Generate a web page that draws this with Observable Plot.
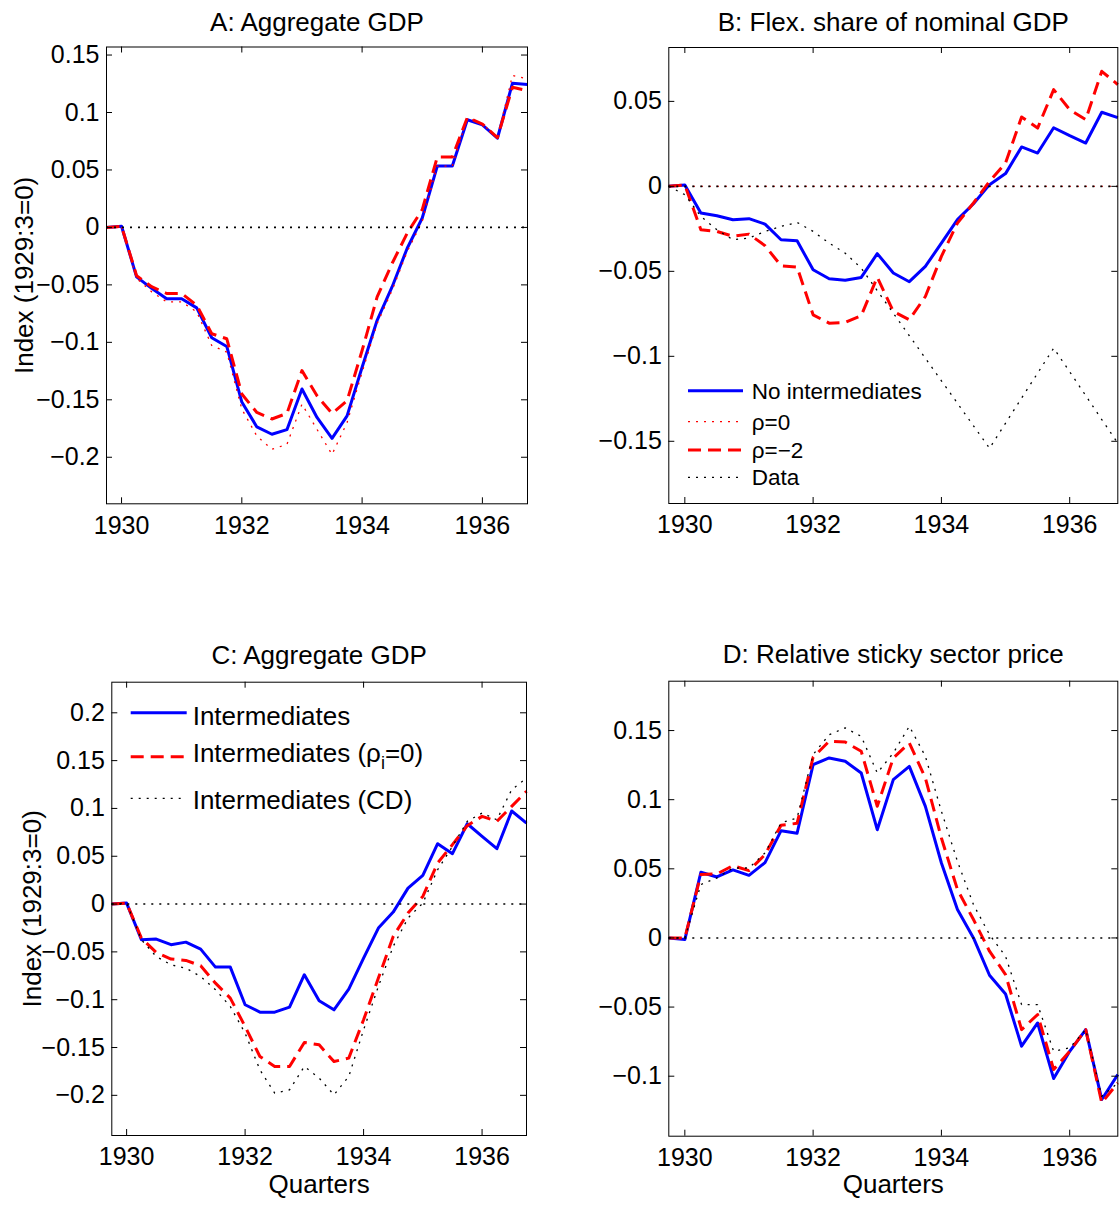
<!DOCTYPE html>
<html>
<head>
<meta charset="utf-8">
<script src="https://cdn.jsdelivr.net/npm/d3@7"></script>
<script src="https://cdn.jsdelivr.net/npm/@observablehq/plot@0.6"></script>
<style>
  html, body { margin: 0; padding: 0; background: #fff; }
  #chart { position: relative; width: 1119px; height: 1207px; background: #fff; overflow: hidden; }
</style>
</head>
<body>
<div id="chart"></div>
<script>
// ---------------- DATA ----------------
const quarters = [1929.75, 1930, 1930.25, 1930.5, 1930.75, 1931, 1931.25, 1931.5, 1931.75,
  1932, 1932.25, 1932.5, 1932.75, 1933, 1933.25, 1933.5, 1933.75, 1934, 1934.25, 1934.5, 1934.75,
  1935, 1935.25, 1935.5, 1935.75, 1936, 1936.25, 1936.5, 1936.75];

const xTicks = [1930, 1932, 1934, 1936];
const yTicksA = [-0.2, -0.15, -0.1, -0.05, 0, 0.05, 0.1, 0.15];
const yTicksB = [-0.15, -0.1, -0.05, 0, 0.05];
const yTicksC = [-0.2, -0.15, -0.1, -0.05, 0, 0.05, 0.1, 0.15, 0.2];
const yTicksD = [-0.1, -0.05, 0, 0.05, 0.1, 0.15];

const titles = ["A: Aggregate GDP", "B: Flex. share of nominal GDP", "C: Aggregate GDP", "D: Relative sticky sector price"];
const yLabel = "Index (1929:3=0)";
const xLabel = "Quarters";

const legendB = ["No intermediates", "ρ=0", "ρ=\u22122", "Data"];
const legendC = ["Intermediates", "Intermediates (ρ", "Intermediates (CD)"];

// Panel A: Aggregate GDP, no intermediates
const aNoInt = [0, 0.001, -0.043, -0.053, -0.062, -0.062, -0.070, -0.096, -0.1036, -0.152, -0.1736, -0.180, -0.176, -0.1406, -0.1654, -0.1835, -0.164, -0.1217, -0.0808, -0.0516, -0.0181, 0.0082, 0.0534, 0.0534, 0.0937, 0.0893, 0.0776, 0.1255, 0.1243];
const aRho0 = [0, 0.001, -0.0443, -0.056, -0.0648, -0.0648, -0.0735, -0.1027, -0.1085, -0.1581, -0.1815, -0.1931, -0.1888, -0.1538, -0.1757, -0.1975, -0.1698, -0.126, -0.0837, -0.0546, -0.021, 0.0053, 0.0534, 0.0534, 0.0957, 0.0899, 0.0782, 0.1322, 0.1292];
const aRhoM2 = [0, 0.001, -0.042, -0.0516, -0.0575, -0.0575, -0.0677, -0.0925, -0.0969, -0.145, -0.161, -0.1667, -0.1619, -0.1246, -0.1465, -0.1619, -0.1508, -0.1071, -0.0604, -0.0312, -0.005, 0.0155, 0.0613, 0.0613, 0.0957, 0.0899, 0.0782, 0.122, 0.119];

// Panel B: Flex share of nominal GDP
const bNoInt = [0, 0.0008, -0.0157, -0.0173, -0.0196, -0.019, -0.0222, -0.0314, -0.032, -0.0491, -0.0544, -0.0552, -0.0536, -0.0396, -0.051, -0.0561, -0.0471, -0.0334, -0.0196, -0.0102, 0.001, 0.0075, 0.0232, 0.0196, 0.0345, 0.0298, 0.0255, 0.0436, 0.0404];
const bRho0 = [0, 0, 0, 0, 0, 0, 0, 0, 0, 0, 0, 0, 0, 0, 0, 0, 0, 0, 0, 0, 0, 0, 0, 0, 0, 0, 0, 0, 0];
const bRhoM2 = [0, 0.0008, -0.0255, -0.0265, -0.0294, -0.0281, -0.0349, -0.0467, -0.0475, -0.0756, -0.0805, -0.0801, -0.0761, -0.0534, -0.0736, -0.0785, -0.0648, -0.0412, -0.0216, -0.0098, 0.0029, 0.0137, 0.0408, 0.0343, 0.0569, 0.0451, 0.0393, 0.0677, 0.0599];
const bData = [0, -0.0049, -0.0177, -0.0255, -0.0314, -0.0304, -0.0265, -0.0236, -0.0212, -0.0265, -0.0334, -0.0393, -0.0481, -0.0614, -0.0746, -0.0879, -0.1011, -0.1144, -0.1276, -0.1409, -0.1541, -0.1393, -0.1246, -0.1099, -0.0952, -0.1091, -0.1231, -0.1372, -0.1511];

// Panel C: Aggregate GDP with intermediates
const cInt = [0, 0.001, -0.0373, -0.0366, -0.0425, -0.0398, -0.0471, -0.0659, -0.0659, -0.1053, -0.113, -0.113, -0.1078, -0.0739, -0.1011, -0.1106, -0.0889, -0.0565, -0.0251, -0.0084, 0.0167, 0.03, 0.0631, 0.0527, 0.084, 0.0708, 0.0579, 0.0973, 0.0847];
const cIntRho0 = [0, 0.001, -0.0356, -0.0506, -0.0575, -0.0589, -0.0645, -0.0827, -0.0983, -0.128, -0.1594, -0.1698, -0.1698, -0.1447, -0.1472, -0.1646, -0.1611, -0.121, -0.0774, -0.0338, -0.0094, 0.008, 0.0429, 0.0621, 0.082, 0.0917, 0.0865, 0.1022, 0.1179];
const cIntCD = [0, 0.001, -0.0373, -0.0548, -0.0635, -0.067, -0.0757, -0.0896, -0.1071, -0.135, -0.1733, -0.1977, -0.1942, -0.1698, -0.182, -0.1995, -0.1803, -0.1315, -0.0861, -0.0443, -0.0146, 0.001, 0.0359, 0.0603, 0.0865, 0.0952, 0.0882, 0.1196, 0.1318];

// Panel D: Relative sticky sector price
const dInt = [0, -0.0012, 0.0475, 0.0441, 0.0492, 0.0453, 0.0545, 0.0776, 0.0757, 0.1253, 0.1302, 0.1278, 0.1193, 0.0783, 0.1145, 0.1241, 0.0952, 0.0542, 0.0205, 0, -0.027, -0.0405, -0.0783, -0.0615, -0.1017, -0.082, -0.0663, -0.1169, -0.0988];
const dIntRho0 = [0, 0, 0.0458, 0.0463, 0.0523, 0.0487, 0.0603, 0.0815, 0.0829, 0.1307, 0.1422, 0.1417, 0.135, 0.0952, 0.1302, 0.141, 0.1157, 0.0723, 0.035, 0.0133, -0.0096, -0.0265, -0.0663, -0.0554, -0.0952, -0.082, -0.0663, -0.1193, -0.1049];
const dIntCD = [0, 0, 0.0386, 0.0434, 0.0506, 0.0506, 0.0615, 0.0832, 0.0868, 0.1326, 0.147, 0.1519, 0.1458, 0.1193, 0.1338, 0.1531, 0.1314, 0.0916, 0.0554, 0.0241, 0.0024, -0.0133, -0.0482, -0.0482, -0.082, -0.0795, -0.0663, -0.1145, -0.1049];

// ---------------- STYLES ----------------
const FONT = '"Liberation Sans", Arial, Helvetica, sans-serif';
const BLUE = "#0000ff", RED = "#ff0000", BLACK = "#000000";
const STYLE = {
  solid:    {stroke: BLUE, strokeWidth: 3, strokeLinejoin: "round", strokeLinecap: "butt"},
  dotRed:   {stroke: RED, strokeWidth: 1.3, strokeDasharray: "2,6", strokeLinecap: "butt"},
  dash:     {stroke: RED, strokeWidth: 3, strokeDasharray: "13,7", strokeLinejoin: "round", strokeLinecap: "butt"},
  dotBlack: {stroke: BLACK, strokeWidth: 1.3, strokeDasharray: "2,6", strokeLinecap: "butt"}
};
const fmtY = d => (d < 0 ? "\u2212" : "") + String(Math.abs(d));
const xDomain = [1929.75, 1936.75];

function makePanel(cfg) {
  const {left, top, w, h, ml, mr, mt, mb, yDomain, yTicks, title, titleDy, series, ylab, ylabDx, xlab} = cfg;
  const iw = w - ml - mr, ih = h - mt - mb, tk = 6;
  const marks = [];
  for (const s of series) {
    const rows = quarters.map((q, i) => ({q, v: s.values[i]}));
    marks.push(Plot.line(rows, {x: "q", y: "v", ...STYLE[s.style]}));
  }
  marks.push(Plot.ruleY([0], {stroke: BLACK, strokeWidth: 1.6, strokeDasharray: "2,6", strokeLinecap: "butt"}));
  marks.push(Plot.frame({stroke: BLACK, strokeWidth: 1}));
  marks.push(Plot.tickY(yTicks, {y: d => d, insetRight: iw - tk, stroke: BLACK}));
  marks.push(Plot.tickY(yTicks, {y: d => d, insetLeft: iw - tk, stroke: BLACK}));
  marks.push(Plot.tickX(xTicks, {x: d => d, insetTop: ih - tk, stroke: BLACK}));
  marks.push(Plot.tickX(xTicks, {x: d => d, insetBottom: ih - tk, stroke: BLACK}));
  marks.push(Plot.axisY(yTicks, {tickSize: 0, tickPadding: 7, tickFormat: fmtY, fontSize: 25, label: null}));
  marks.push(Plot.axisX(xTicks, {tickSize: 0, tickPadding: 12, tickFormat: d => String(d), fontSize: 25, label: null}));
  marks.push(Plot.text([title], {frameAnchor: "top", dy: titleDy, lineAnchor: "bottom", textAnchor: "middle", fontSize: 26}));
  if (ylab) marks.push(Plot.text([ylab], {frameAnchor: "left", dx: ylabDx, rotate: -90, lineAnchor: "bottom", textAnchor: "middle", fontSize: 26}));
  if (xlab) marks.push(Plot.text([xlab], {frameAnchor: "bottom", dy: 57, lineAnchor: "bottom", textAnchor: "middle", fontSize: 26}));
  const svg = Plot.plot({
    width: w, height: h,
    marginLeft: ml, marginRight: mr, marginTop: mt, marginBottom: mb,
    x: {domain: xDomain, label: null},
    y: {domain: yDomain, label: null},
    style: {fontFamily: FONT, fontSize: "25px", color: BLACK, background: "transparent", overflow: "visible"},
    marks
  });
  svg.style.position = "absolute";
  svg.style.left = left + "px";
  svg.style.top = top + "px";
  return svg;
}

const chart = document.getElementById("chart");

chart.appendChild(makePanel({
  left: 0, top: 0, w: 560, h: 560, ml: 106, mr: 33, mt: 46.5, mb: 56.7,
  yDomain: [-0.2405, 0.157], yTicks: yTicksA, title: titles[0], titleDy: -16.5,
  ylab: yLabel, ylabDx: -73.5,
  series: [{values: aNoInt, style: "solid"}, {values: aRho0, style: "dotRed"}, {values: aRhoM2, style: "dash"}]
}));

chart.appendChild(makePanel({
  left: 560, top: 0, w: 559, h: 560, ml: 108.3, mr: 1.7, mt: 47, mb: 57,
  yDomain: [-0.1866, 0.0817], yTicks: yTicksB, title: titles[1], titleDy: -16.5,
  series: [{values: bRho0, style: "dotRed"}, {values: bNoInt, style: "solid"}, {values: bRhoM2, style: "dash"}, {values: bData, style: "dotBlack"}]
}));

chart.appendChild(makePanel({
  left: 0, top: 600, w: 560, h: 607, ml: 111.3, mr: 34, mt: 81.7, mb: 72,
  yDomain: [-0.242, 0.232], yTicks: yTicksC, title: titles[2], titleDy: -18,
  ylab: yLabel, ylabDx: -71.3, xlab: xLabel,
  series: [{values: cInt, style: "solid"}, {values: cIntRho0, style: "dash"}, {values: cIntCD, style: "dotBlack"}]
}));

chart.appendChild(makePanel({
  left: 560, top: 600, w: 559, h: 607, ml: 108.3, mr: 1.7, mt: 80.7, mb: 71.3,
  yDomain: [-0.1434, 0.1857], yTicks: yTicksD, title: titles[3], titleDy: -18,
  xlab: xLabel,
  series: [{values: dInt, style: "solid"}, {values: dIntRho0, style: "dash"}, {values: dIntCD, style: "dotBlack"}]
}));

// ---------------- LEGENDS (overlay) ----------------
const overlay = d3.create("svg")
  .attr("width", 1119).attr("height", 1207)
  .style("position", "absolute").style("left", "0px").style("top", "0px")
  .style("pointer-events", "none")
  .style("font-family", FONT);

function applyStyle(sel, st) {
  sel.attr("stroke", st.stroke).attr("stroke-width", st.strokeWidth)
     .attr("stroke-dasharray", st.strokeDasharray || null)
     .attr("stroke-linecap", "butt");
}

// Legend B
const legBStyles = ["solid", "dotRed", "dash", "dotBlack"];
const legBY = [390.7, 421.7, 450, 477.3];
legendB.forEach((lab, i) => {
  applyStyle(overlay.append("line").attr("x1", 688).attr("x2", 743).attr("y1", legBY[i]).attr("y2", legBY[i]), STYLE[legBStyles[i]]);
  overlay.append("text").attr("x", 751.7).attr("y", legBY[i] + 7.8)
    .attr("font-size", 22.5).attr("fill", BLACK).text(lab);
});

// Legend C
const legCStyles = ["solid", "dash", "dotBlack"];
const legCLineY = [712.7, 756.7, 798.3];
const legCBase = [725, 761.7, 809.3];
legendC.forEach((lab, i) => {
  applyStyle(overlay.append("line").attr("x1", 130.7).attr("x2", 186.7).attr("y1", legCLineY[i]).attr("y2", legCLineY[i]), STYLE[legCStyles[i]]);
  const t = overlay.append("text").attr("x", 192.7).attr("y", legCBase[i])
    .attr("font-size", 26).attr("fill", BLACK);
  t.append("tspan").text(lab);
  if (i === 1) {
    t.append("tspan").attr("font-size", 18).attr("dy", 7).text("i");
    t.append("tspan").attr("dy", -7).text("=0)");
  }
});

chart.appendChild(overlay.node());
</script>
</body>
</html>
